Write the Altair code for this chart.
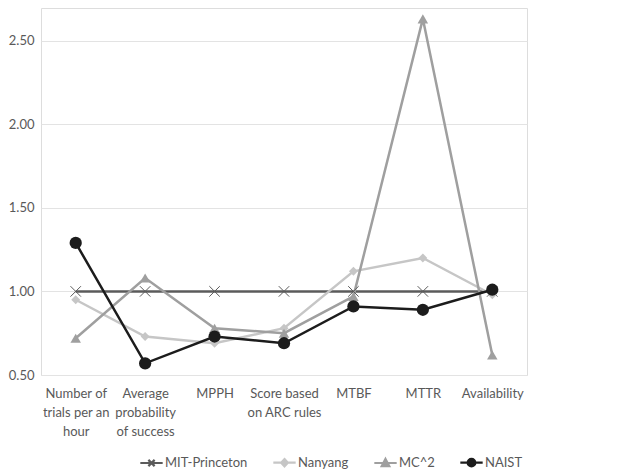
import altair as alt
import pandas as pd

categories = ["Number of|trials per an|hour", "Average|probability|of success", "MPPH",
              "Score based|on ARC rules", "MTBF", "MTTR", "Availability"]
series = ["MIT-Princeton", "Nanyang", "MC^2", "NAIST"]
mit = [1.00, 1.00, 1.00, 1.00, 1.00, 1.00, 1.00]
nanyang = [0.95, 0.73, 0.69, 0.78, 1.12, 1.20, 0.98]
mc2 = [0.72, 1.08, 0.78, 0.75, 0.97, 2.63, 0.62]
naist = [1.29, 0.57, 0.73, 0.69, 0.91, 0.89, 1.01]
y_ticks = [0.5, 1.0, 1.5, 2.0, 2.5]

colors = ["#5b5b5b", "#c6c6c6", "#9f9f9f", "#1c1c1c"]
marker_shapes = ["M-1,-1L1,1M-1,1L1,-1", "diamond", "triangle-up", "circle"]
marker_filled = [False, True, True, True]
marker_sizes = [110, 80, 110, 150]

rows = []
for s, vals in zip(series, [mit, nanyang, mc2, naist]):
    for c, v in zip(categories, vals):
        rows.append({"category": c, "series": s, "value": v})
df = pd.DataFrame(rows)

FONT = "Lato"
FS = 13
x_enc = alt.X("category:N", sort=categories, scale=alt.Scale(paddingInner=0, paddingOuter=0),
              axis=alt.Axis(title=None, labelExpr="split(datum.value, '|')", labelAngle=0,
                            labelFontSize=FS, labelColor="#595959", labelFont=FONT,
                            labelLineHeight=19, ticks=False, domain=False, labelPadding=12,
                            labelBaseline="top"))
y_enc = alt.Y("value:Q", scale=alt.Scale(domain=[0.5, 2.695], nice=False, zero=False),
              axis=alt.Axis(title=None, values=y_ticks, format=".2f", labelFontSize=FS,
                            labelColor="#595959", labelFont=FONT, ticks=False, domain=False,
                            gridColor="#e3e3e3", gridWidth=1, labelPadding=7))

layers = []
for s, col in zip(series, colors):
    layers.append(
        alt.Chart(df).transform_filter(alt.datum.series == s)
        .mark_line(strokeWidth=2.5, color=col).encode(x=x_enc, y=y_enc)
    )
for s, col, shp, fil, sz in zip(series, colors, marker_shapes, marker_filled, marker_sizes):
    layers.append(
        alt.Chart(df).transform_filter(alt.datum.series == s).mark_point(
            shape=shp, color=col, filled=fil, size=sz, opacity=1, strokeWidth=1,
        ).encode(x=x_enc, y=y_enc)
    )

legend_paths = [
    "M-1,0H1M-0.28,-0.28L0.28,0.28M-0.28,0.28L0.28,-0.28",
    "M-1,0H1M0,-0.33L0.3,0L0,0.33L-0.3,0Z",
    "M-1,0H1M0,-0.36L0.34,0.28L-0.34,0.28Z",
    "M-1,0H1M-0.34,0A0.34,0.34,0,1,1,0.34,0A0.34,0.34,0,1,1,-0.34,0Z",
]

def leg():
    return alt.Legend(title=None, orient="none", legendX=98, legendY=442, direction="horizontal",
                      labelFontSize=FS, labelColor="#595959", labelFont=FONT,
                      symbolSize=500, symbolStrokeWidth=2.2, columnPadding=20,
                      symbolOpacity=1, labelOffset=1)

legend_layer = alt.Chart(df).mark_point(filled=True, opacity=0).encode(
    x=x_enc, y=y_enc,
    color=alt.Color("series:N", scale=alt.Scale(domain=series, range=colors), legend=leg()),
    stroke=alt.Stroke("series:N", scale=alt.Scale(domain=series, range=colors), legend=leg()),
    shape=alt.Shape("series:N", scale=alt.Scale(domain=series, range=legend_paths), legend=leg()),
)
layers.append(legend_layer)

chart = alt.layer(*layers).properties(
    width=486, height=367,
    padding={"left": 0, "top": 0, "right": 5, "bottom": 0},
    autosize=alt.AutoSizeParams(type="pad"),
).configure_view(stroke=None).configure(background="white")

chart.save("out.html", embed_options={"renderer": "svg", "actions": False})
